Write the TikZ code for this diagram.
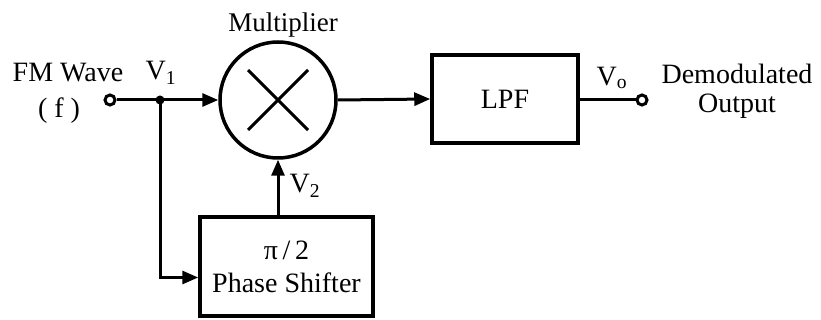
\documentclass[tikz,border=0pt]{standalone}
\usepackage{fontspec}
\setmainfont{Liberation Serif}
\usetikzlibrary{arrows.meta}
\begin{document}
\begin{tikzpicture}[x=1pt,y=-1pt,
  txt/.style={inner sep=0pt,font=\fontsize{28}{31}\selectfont},
  conn/.style={line width=3pt},
  arr/.style={conn,-{Triangle[length=16pt,width=13pt]}},
  term/.style={circle,draw,line width=3pt,minimum size=10pt,inner sep=0pt,fill=white},
  blockbox/.style={draw,line width=3.5pt,inner sep=0pt,align=center,font=\fontsize{28}{33}\selectfont}]
\useasboundingbox (0,0) rectangle (821,320);
% nodes
\node[term] (in) at (110,100) {};
\coordinate (j) at (160,100);
\node[circle,draw,line width=3.5pt,minimum size=116pt,inner sep=0pt] (mul) at (278,100) {};
\node[blockbox,minimum width=146pt,minimum height=88pt] (lpf) at (505,99) {LPF};
\node[term] (out) at (642,100) {};
\node[blockbox,minimum width=173pt,minimum height=99pt] (ps) at (286.5,266.5) {π\,/\,2\\Phase Shifter};
% cross
\draw[line width=3pt] ([shift={(-30pt,30pt)}]mul.center) -- ([shift={(30pt,-30pt)}]mul.center);
\draw[line width=3pt] ([shift={(-30pt,-30pt)}]mul.center) -- ([shift={(30pt,30pt)}]mul.center);
% labels
\node[txt] (lfm) at (68,73) {FM Wave};
\node[txt] (lf) at (59,111) {( f )};
\node[txt] (lv1) at (161,73) {V\textsubscript{1}};
\node[txt,font=\fontsize{27}{31}\selectfont] (lmul) at (283,25) {Multiplier};
\node[txt] (lv2) at (305,186) {V\textsubscript{2}};
\node[txt] (lvo) at (612,78) {V\textsubscript{o}};
\node[txt,align=center,font=\fontsize{28}{29}\selectfont] (ldem) at (737,91) {Demodulated\\Output};
% connectors
\draw[arr] (in) -- (mul.west);
\fill (j) circle (4.5pt);
\draw[arr] (j) |- ([yshift=-11pt]ps.west);
\draw[arr] (mul.south |- ps.north) -- (mul.south);
\draw[arr] (mul.east) -- (lpf.west);
\draw[conn] (lpf.east |- out) -- (out);
\end{tikzpicture}
\end{document}
